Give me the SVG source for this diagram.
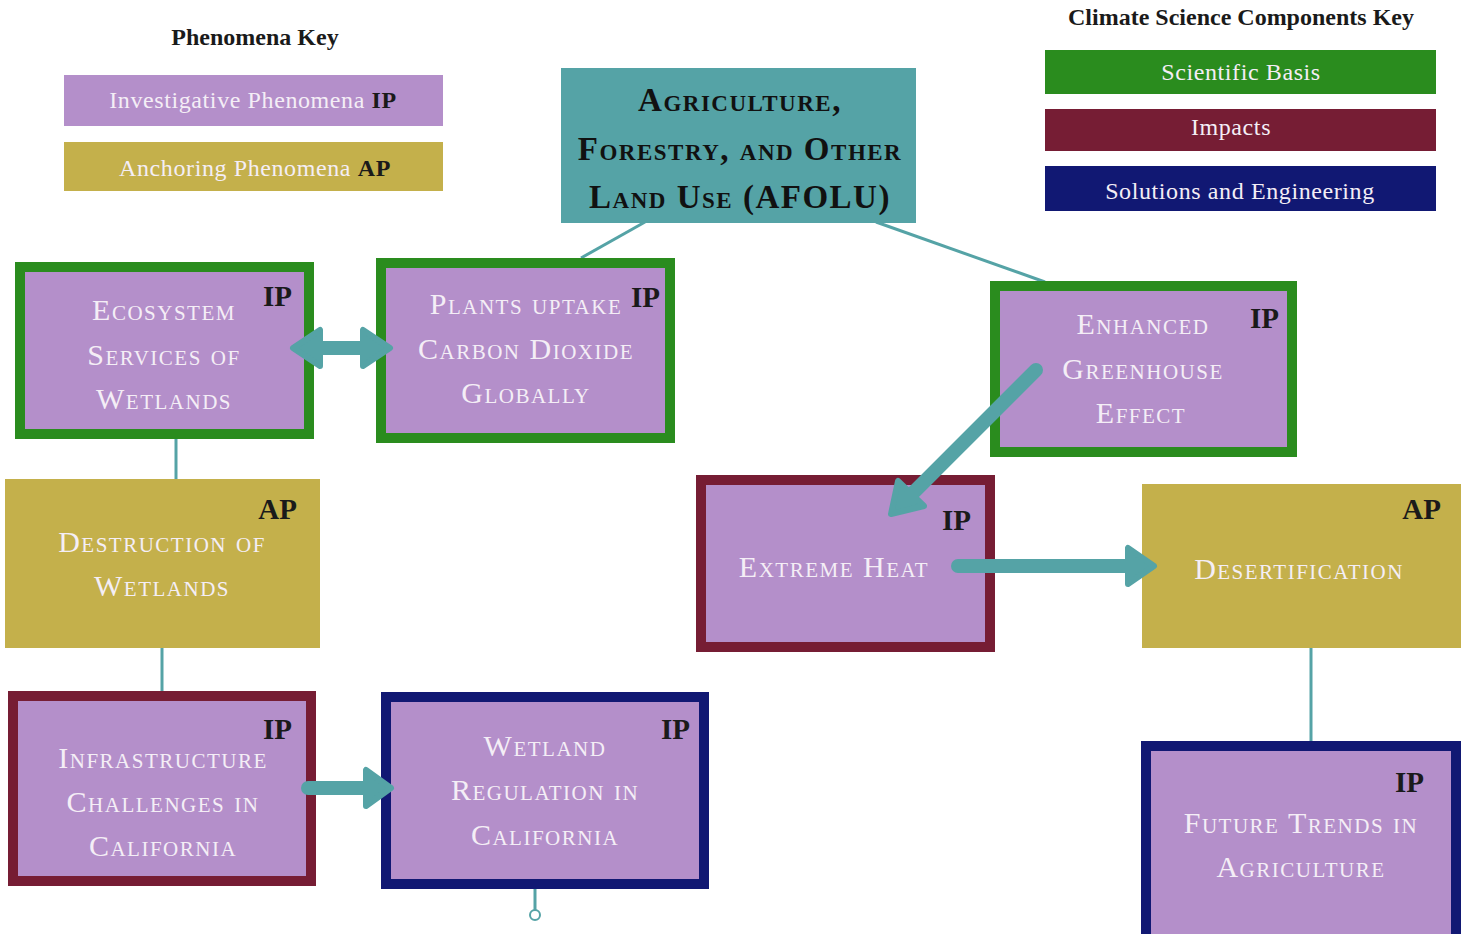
<svg xmlns="http://www.w3.org/2000/svg" width="1468" height="934" viewBox="0 0 1468 934">
  <style>
    .keytitle { font-family: "Liberation Serif", "DejaVu Serif", serif; font-weight: bold; font-size: 24px; fill: #1a1a1a; text-anchor: middle; }
    .keytext { font-family: "Liberation Serif", "DejaVu Serif", serif; font-size: 24px; fill: #f4eef6; text-anchor: middle; letter-spacing: 0.6px; }
    .keytag { font-weight: bold; fill: #1a1a1a; }
    .label { font-family: "Liberation Serif", "DejaVu Serif", serif; font-variant: small-caps; font-size: 30px; fill: #f4eef6; text-anchor: middle; letter-spacing: 1.5px; }
    .title { font-family: "Liberation Serif", "DejaVu Serif", serif; font-variant: small-caps; font-weight: bold; font-size: 33px; fill: #111; text-anchor: middle; letter-spacing: 1.5px; }
    .tag { font-family: "Liberation Serif", "DejaVu Serif", serif; font-weight: bold; font-size: 29px; fill: #1a1a1a; text-anchor: end; }
    .ip { fill: #b48fca; }
    .ap { fill: #c4b04b; }
    .sci { stroke: #2a8c1e; stroke-width: 10; }
    .imp { stroke: #761d34; stroke-width: 10; }
    .sol { stroke: #111873; stroke-width: 10; }
    .link { stroke: #55a3a6; stroke-width: 3; fill: none; }
    .shaft { stroke: #55a3a6; stroke-width: 14; stroke-linecap: round; fill: none; }
    .head { fill: #55a3a6; stroke: #55a3a6; stroke-width: 6; stroke-linejoin: round; }
  </style>

  <rect width="1468" height="934" fill="#ffffff"/>

  <!-- Phenomena key -->
  <g id="phenomena-key">
    <text class="keytitle" x="255" y="45">Phenomena Key</text>
    <rect x="64" y="75" width="379" height="51" fill="#b48fca"/>
    <text class="keytext" x="253" y="108">Investigative Phenomena <tspan class="keytag">IP</tspan></text>
    <rect x="64" y="142" width="379" height="49" fill="#c4b04b"/>
    <text class="keytext" x="255" y="176">Anchoring Phenomena  <tspan class="keytag">AP</tspan></text>
  </g>

  <!-- Climate science components key -->
  <g id="components-key">
    <text class="keytitle" x="1241" y="25">Climate Science Components Key</text>
    <rect x="1045" y="50" width="391" height="44" fill="#2a8c1e"/>
    <text class="keytext" x="1241" y="80">Scientific Basis</text>
    <rect x="1045" y="109" width="391" height="42" fill="#761d34"/>
    <text class="keytext" x="1231" y="135">Impacts</text>
    <rect x="1045" y="166" width="391" height="45" fill="#111873"/>
    <text class="keytext" x="1240" y="199">Solutions and Engineering</text>
  </g>

  <!-- Connectors -->
  <g id="connectors">
    <line class="link" x1="645" y1="222" x2="581" y2="258"/>
    <line class="link" x1="876" y1="222" x2="1045" y2="282"/>
    <line class="link" x1="176" y1="438" x2="176" y2="480"/>
    <line class="link" x1="162" y1="647" x2="162" y2="692"/>
    <line class="link" x1="1311" y1="647" x2="1311" y2="742"/>
    <line class="link" x1="535" y1="888" x2="535" y2="910"/>
    <circle cx="535" cy="915" r="5" fill="#ffffff" stroke="#55a3a6" stroke-width="2"/>
  </g>

  <!-- Central topic -->
  <g id="afolu">
    <rect x="561" y="68" width="355" height="155" fill="#55a3a6"/>
    <text class="title" x="740" y="111">Agriculture,</text>
    <text class="title" x="740" y="160">Forestry, and Other</text>
    <text class="title" x="740" y="208">Land Use (AFOLU)</text>
  </g>

  <g id="ecosystem-services">
    <rect class="ip sci" x="20" y="267" width="289" height="167"/>
    <text class="label" x="164" y="320">Ecosystem</text>
    <text class="label" x="164" y="365">Services of</text>
    <text class="label" x="164" y="409">Wetlands</text>
    <text class="tag" x="292" y="306">IP</text>
  </g>

  <g id="plants-uptake">
    <rect class="ip sci" x="381" y="263" width="289" height="175"/>
    <text class="label" x="526" y="314">Plants uptake</text>
    <text class="label" x="526" y="359">Carbon Dioxide</text>
    <text class="label" x="526" y="403">Globally</text>
    <text class="tag" x="660" y="307">IP</text>
  </g>

  <g id="enhanced-greenhouse">
    <rect class="ip sci" x="995" y="286" width="297" height="166"/>
    <text class="label" x="1143" y="334">Enhanced</text>
    <text class="label" x="1143" y="379">Greenhouse</text>
    <text class="label" x="1141" y="423">Effect</text>
    <text class="tag" x="1279" y="328">IP</text>
  </g>

  <g id="destruction-wetlands">
    <rect class="ap" x="5" y="479" width="315" height="169"/>
    <text class="label" x="162" y="552">Destruction of</text>
    <text class="label" x="162" y="596">Wetlands</text>
    <text class="tag" x="297" y="519">AP</text>
  </g>

  <g id="extreme-heat">
    <rect class="ip imp" x="701" y="480" width="289" height="167"/>
    <text class="label" x="834" y="577">Extreme Heat</text>
    <text class="tag" x="971" y="530">IP</text>
  </g>

  <g id="desertification">
    <rect class="ap" x="1142" y="484" width="319" height="164"/>
    <text class="label" x="1299" y="579">Desertification</text>
    <text class="tag" x="1441" y="519">AP</text>
  </g>

  <g id="infrastructure-challenges">
    <rect class="ip imp" x="13" y="696" width="298" height="185"/>
    <text class="label" x="163" y="768">Infrastructure</text>
    <text class="label" x="163" y="812">Challenges in</text>
    <text class="label" x="163" y="856">California</text>
    <text class="tag" x="292" y="739">IP</text>
  </g>

  <g id="wetland-regulation">
    <rect class="ip sol" x="386" y="697" width="318" height="187"/>
    <text class="label" x="545" y="756">Wetland</text>
    <text class="label" x="545" y="800">Regulation in</text>
    <text class="label" x="545" y="845">California</text>
    <text class="tag" x="690" y="739">IP</text>
  </g>

  <g id="future-trends">
    <rect class="ip sol" x="1146" y="746" width="310" height="196"/>
    <text class="label" x="1301" y="833">Future Trends in</text>
    <text class="label" x="1301" y="877">Agriculture</text>
    <text class="tag" x="1424" y="792">IP</text>
  </g>

  <!-- Directed arrows -->
  <g id="arrows">
    <line class="shaft" x1="318" y1="348" x2="366" y2="348"/>
    <polygon class="head" points="293,348 320,330 320,366"/>
    <polygon class="head" points="390,348 363,330 363,366"/>

    <line class="shaft" x1="1036" y1="370" x2="912" y2="494"/>
    <polygon class="head" points="891,514 924,506 898,481"/>

    <line class="shaft" x1="958" y1="566" x2="1130" y2="566"/>
    <polygon class="head" points="1154,566 1128,548 1128,584"/>

    <line class="shaft" x1="308" y1="788" x2="368" y2="788"/>
    <polygon class="head" points="391,788 366,770 366,806"/>
  </g>
</svg>
